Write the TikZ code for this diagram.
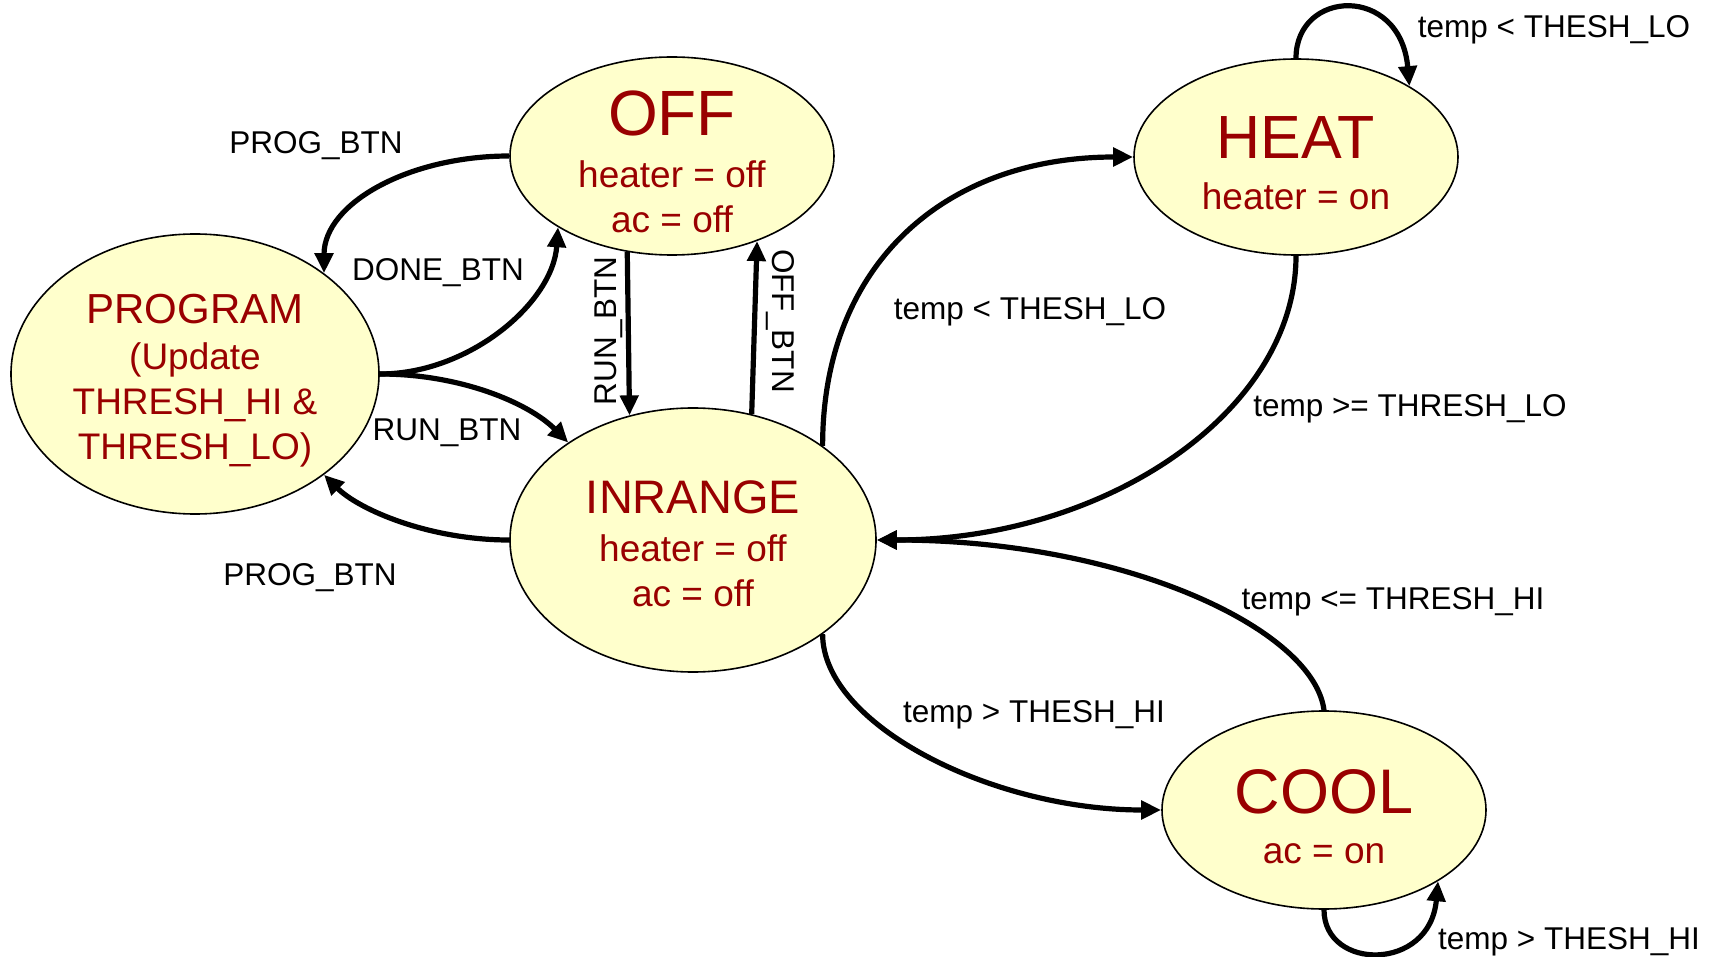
\documentclass[tikz,border=0pt]{standalone}
\usepackage{fontspec}
\setmainfont{Liberation Sans}
\usetikzlibrary{arrows.meta,shapes.geometric}
\definecolor{stfill}{HTML}{FFFFCC}
\definecolor{sttext}{HTML}{990000}
\begin{document}
\begin{tikzpicture}[x=1pt,y=-1pt,
 state/.style={ellipse,draw=black,line width=1.6pt,fill=stfill,inner sep=0pt},
 ttl/.style={text=sttext,anchor=base,inner sep=0pt},
 sub/.style={text=sttext,anchor=base,inner sep=0pt,font=\fontsize{37}{40}\selectfont},
 lbl/.style={font=\fontsize{31.5}{34}\selectfont,inner sep=0pt},
 tr/.style={line width=5.2pt,-{Triangle[length=20pt,width=18pt]}}]
\fill[white] (0,0) rectangle (1717,957);
\useasboundingbox (0,0) rectangle (1717,957);

% states
\node[state,minimum width=324pt,minimum height=198pt] (off) at (672,156) {};
\node[state,minimum width=368pt,minimum height=280pt] (program) at (195,374) {};
\node[state,minimum width=366pt,minimum height=264pt] (inrange) at (693,540) {};
\node[state,minimum width=324pt,minimum height=196pt] (heat) at (1296,157) {};
\node[state,minimum width=324pt,minimum height=198pt] (cool) at (1324,810) {};

% state texts
\node[ttl,font=\fontsize{64}{64}\selectfont] (offT) at (672,136) {OFF};
\node[sub] (offA) at (672,188) {heater = off};
\node[sub] (offB) at (672,233) {ac = off};

\node[ttl,font=\fontsize{42}{42}\selectfont] (progT) at (195,324) {PROGRAM};
\node[sub] (progA) at (195,370) {(Update};
\node[sub] (progB) at (195,415) {THRESH\_HI \&};
\node[sub] (progC) at (195,460) {THRESH\_LO)};

\node[ttl,font=\fontsize{47}{47}\selectfont] (inrT) at (693,513) {INRANGE};
\node[sub] (inrA) at (693,561) {heater = off};
\node[sub] (inrB) at (693,606) {ac = off};

\node[ttl,font=\fontsize{61}{61}\selectfont] (heatT) at (1296,159) {HEAT};
\node[sub] (heatA) at (1296,210) {heater = on};

\node[ttl,font=\fontsize{63}{63}\selectfont] (coolT) at (1324,813) {COOL};
\node[sub] (coolA) at (1324,863) {ac = on};

% transitions
\draw[tr] (off.west) .. controls +(-100,0) and +(0,-70) .. (program.38);
\draw[tr] (program.east) .. controls +(90,0) and +(-5,75) .. (off.212);
\draw[tr] (program.east) .. controls +(80,0) and +(-40,-40) .. (inrange.142);
\draw[tr] (inrange.west) .. controls +(-80,0) and +(35,35) .. (program.-38);
\draw[tr] (off.245) -- (inrange.117);
\draw[tr] (inrange.65) -- (off.-45);
\draw[tr] (inrange.36) .. controls +(0,-180) and +(-190,0) .. (heat.west);
\draw[tr] (heat.south) .. controls +(0,155) and +(230,0) .. (inrange.east);
\draw[tr] (cool.north) .. controls +(-10,-80) and +(250,0) .. (inrange.east);
\draw[tr] (inrange.-36) .. controls +(0,90) and +(-170,0) .. (cool.west);
\draw[tr] (heat.north) .. controls +(0,-69) and +(-9,-102) .. (heat.32);
\draw[tr] (cool.south) .. controls +(0,61) and +(-8,91) .. (cool.-32);

% labels
\node[lbl] (l1) at (316,146) {PROG\_BTN};
\node[lbl] (l2) at (438,273) {DONE\_BTN};
\node[lbl,rotate=90] (l3) at (609,331) {RUN\_BTN};
\node[lbl,rotate=-90] (l4) at (780,321) {OFF\_BTN};
\node[lbl] (l5) at (447,433) {RUN\_BTN};
\node[lbl] (l6) at (310,578) {PROG\_BTN};
\node[lbl] (l7) at (1030,312) {temp < THESH\_LO};
\node[lbl] (l8) at (1410,409) {temp >= THRESH\_LO};
\node[lbl] (l9) at (1393,602) {temp <= THRESH\_HI};
\node[lbl] (l10) at (1034,715) {temp > THESH\_HI};
\node[lbl] (l11) at (1554,30) {temp < THESH\_LO};
\node[lbl] (l12) at (1569,942) {temp > THESH\_HI};
\end{tikzpicture}
\end{document}
